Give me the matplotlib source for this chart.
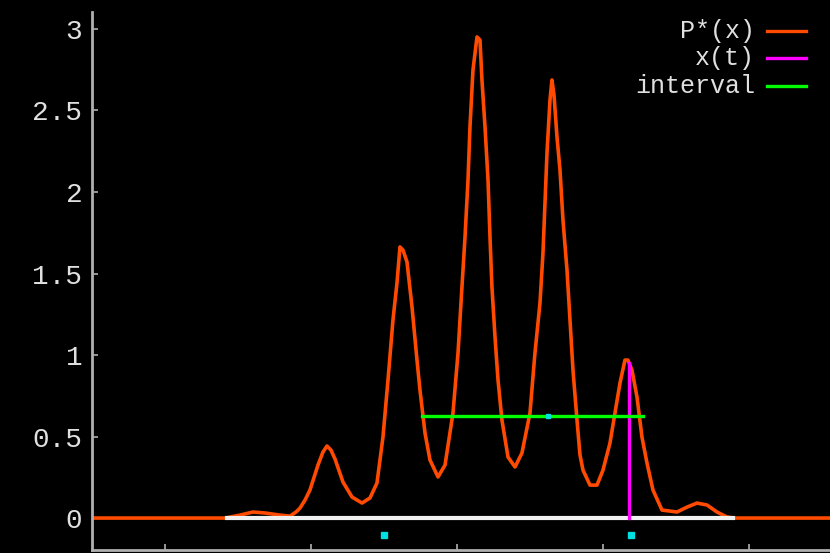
import matplotlib
matplotlib.use('Agg')
import matplotlib.pyplot as plt
from matplotlib.lines import Line2D

# curva P*(x)
x_p = [-5.0, -3.178, -2.973, -2.795, -2.630, -2.425, -2.288, -2.205, -2.151, -2.082,
       -2.014, -1.904, -1.836, -1.781, -1.726, -1.671, -1.562, -1.438, -1.301, -1.192,
       -1.096, -1.014, -0.945, -0.877, -0.822, -0.781, -0.740, -0.685, -0.616, -0.548,
       -0.507, -0.438, -0.370, -0.260, -0.164, -0.055, 0.014, 0.068, 0.110, 0.151,
       0.178, 0.219, 0.274, 0.315, 0.342, 0.384, 0.425, 0.452, 0.479, 0.521,
       0.562, 0.616, 0.699, 0.795, 0.890, 1.000, 1.068, 1.137, 1.178, 1.233,
       1.274, 1.301, 1.329, 1.370, 1.411, 1.452, 1.507, 1.548, 1.589, 1.644,
       1.685, 1.726, 1.822, 1.918, 2.000, 2.096, 2.164, 2.233, 2.301, 2.342,
       2.397, 2.466, 2.534, 2.603, 2.685, 2.808, 3.014, 3.151, 3.288, 3.425,
       3.562, 3.699, 3.808, 5.11]
y_p = [0.0, 0.0, 0.018, 0.037, 0.031, 0.018, 0.012, 0.037, 0.061, 0.110,
       0.172, 0.325, 0.405, 0.442, 0.417, 0.362, 0.221, 0.129, 0.092, 0.123,
       0.215, 0.497, 0.847, 1.215, 1.442, 1.663, 1.644, 1.571, 1.294, 0.969,
       0.785, 0.521, 0.356, 0.252, 0.325, 0.644, 1.012, 1.417, 1.724, 2.074,
       2.399, 2.748, 2.951, 2.933, 2.687, 2.399, 2.074, 1.724, 1.417, 1.110,
       0.847, 0.601, 0.374, 0.313, 0.399, 0.644, 1.012, 1.319, 1.626, 2.239,
       2.564, 2.687, 2.595, 2.337, 2.135, 1.828, 1.521, 1.215, 0.908, 0.601,
       0.387, 0.294, 0.202, 0.202, 0.294, 0.460, 0.644, 0.828, 0.969, 0.969,
       0.908, 0.742, 0.497, 0.337, 0.172, 0.049, 0.037, 0.067, 0.092, 0.080,
       0.037, 0.006, 0.0, 0.0]

# linha branca (suporte)
x_base = [-3.151, 3.781]
y_base = [0.0, 0.0]

# x(t)
xt = 2.356
xt_top = 0.951

# intervalo
int_lo = -0.479
int_hi = 2.548
int_y = 0.626
int_x = 1.247

# pontos ciano embaixo
x_marks = [-1.0, 2.384]
y_marks = [-0.104, -0.104]

labels = ['P*(x)', 'x(t)', 'interval']
colors = ['#ff4a00', '#ff00ff', '#00ff00']

W, H = 830, 553
fig = plt.figure(figsize=(8.3, 5.53), dpi=100, facecolor='black')
ax = fig.add_axes([92 / W, 3 / H, 1 - 92 / W, (550 - 12) / H])
ax.set_facecolor('black')

ax.plot(x_p, y_p, color=colors[0], lw=2.6, zorder=2)
ax.plot(x_base, y_base, color='#f0f0f0', lw=3, zorder=3)
ax.plot([xt, xt], [0, xt_top], color=colors[1], lw=2.4, zorder=4)
ax.plot([int_lo, int_hi], [int_y, int_y], color=colors[2], lw=2.4, zorder=5)
ax.plot([int_x], [int_y], 's', color='#00e0e0', ms=3, zorder=6)
ax.plot(x_marks, y_marks, 's', color='#00e0e0', ms=5, lw=0, zorder=6)

ax.set_xlim(-5.0, 5.11)
ax.set_ylim(-0.196, 3.104)
ax.set_yticks([0, 0.5, 1, 1.5, 2, 2.5, 3])
ax.set_yticklabels(['0', '0.5', '1', '1.5', '2', '2.5', '3'])
ax.set_xticks([-4, -2, 0, 2, 4])
ax.set_xticklabels([])

for s in ['top', 'right']:
    ax.spines[s].set_visible(False)
for s in ['left', 'bottom']:
    ax.spines[s].set_color('#b0b0b0')
    ax.spines[s].set_linewidth(2)
ax.tick_params(axis='both', direction='in', color='#b0b0b0', length=4, width=1.2)
ax.tick_params(axis='y', labelcolor='#e0e0e0', labelsize=20, pad=7)
for t in ax.get_yticklabels():
    t.set_family('Liberation Mono')

# legenda desenhada a mao, canto superior direito
rows = [31, 58, 86]
for lab, c, r in zip(labels, colors, rows):
    fig.text(755 / W, 1 - r / H, lab, ha='right', va='center', color='#e0e0e0',
             fontsize=18, family='Liberation Mono')
    fig.add_artist(Line2D([767 / W, 806 / W], [1 - r / H, 1 - r / H],
                          color=c, lw=2.4, transform=fig.transFigure))

fig.savefig('out.png', dpi=100, facecolor='black')
